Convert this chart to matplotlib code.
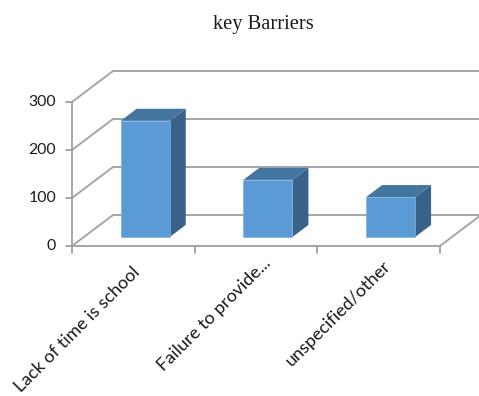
import matplotlib
matplotlib.use("Agg")
import matplotlib.pyplot as plt
from matplotlib.patches import Polygon

categories = ["Lack of time is school", "Failure to provide...", "unspecified/other"]
values = [242, 119, 83]
y_ticks = [0, 100, 200, 300]

GRID = "#a3a3a3"
FRONT = "#5b9bd5"
TOP = "#4375a1"
SIDE = "#386287"


# oblique projection: category units, value units and depth (0-1) to canvas pixels
def proj(cat, val, depth=0.0):
    x = 72 + cat * 368 / len(categories) + depth * 41
    y = 246 - val * 144 / 300 - depth * 31
    return x, y


fig = plt.figure(figsize=(4.79, 3.96), dpi=100)
ax = fig.add_axes([0, 0, 1, 1])
ax.set_xlim(0, 479)
ax.set_ylim(396, 0)
ax.axis("off")

n = len(categories)
line = dict(color=GRID, lw=1.35, solid_capstyle="round", clip_on=True)

# walls and gridlines
for v in y_ticks:
    x0, y0 = proj(0, v)
    x1, y1 = proj(0, v, 1)
    x2, y2 = proj(n, v, 1)
    ax.plot([x0, x1, x2], [y0, y1, y2], **line)
    ax.plot([x0 - 6, x0], [y0, y0], **line)
    ax.text(x0 - 16, y0, str(v), ha="right", va="center", fontsize=11.4,
            family="Lato", color="#1a1a1a")

# front axis, floor edge and category ticks
ax.plot(*zip(proj(0, 0), proj(0, y_ticks[-1])), **line)
ax.plot(*zip(proj(0, 0), proj(n, 0)), **line)
ax.plot(*zip(proj(n, 0), proj(n, 0, 1)), **line)
for i in range(n + 1):
    x, y = proj(i, 0)
    ax.plot([x, x], [y, y + 7], **line)

# bars
width = 0.4
d0, d1 = 0.29, 0.68
# the longest label sits lower and further left so it stays on the canvas
label_shift = [(-2, 18), (7, 9), (4, 12)]
for i, v in enumerate(values):
    left, right = i + 0.5 - width / 2, i + 0.5 + width / 2
    front = [proj(left, 0, d0), proj(right, 0, d0), proj(right, v, d0), proj(left, v, d0)]
    side = [proj(right, 0, d0), proj(right, 0, d1), proj(right, v, d1), proj(right, v, d0)]
    top = [proj(left, v, d0), proj(right, v, d0), proj(right, v, d1), proj(left, v, d1)]
    ax.add_patch(Polygon(side, fc=SIDE, ec="none", zorder=3))
    ax.add_patch(Polygon(top, fc=TOP, ec="none", zorder=3))
    ax.add_patch(Polygon(front, fc=FRONT, ec="#7fb2e0", lw=0.5, zorder=4))

    x, y = proj(i + 0.5, 0)
    dx, dy = label_shift[i]
    ax.text(x + dx, y + dy, categories[i], rotation=45, ha="right", va="top",
            rotation_mode="anchor", fontsize=13, family="Lato", color="#1a1a1a")

ax.text(263, 25, "key Barriers", ha="center", va="center", fontsize=14.8,
        family="Liberation Serif", color="#1a1a1a")

fig.savefig("out.png", dpi=100)
